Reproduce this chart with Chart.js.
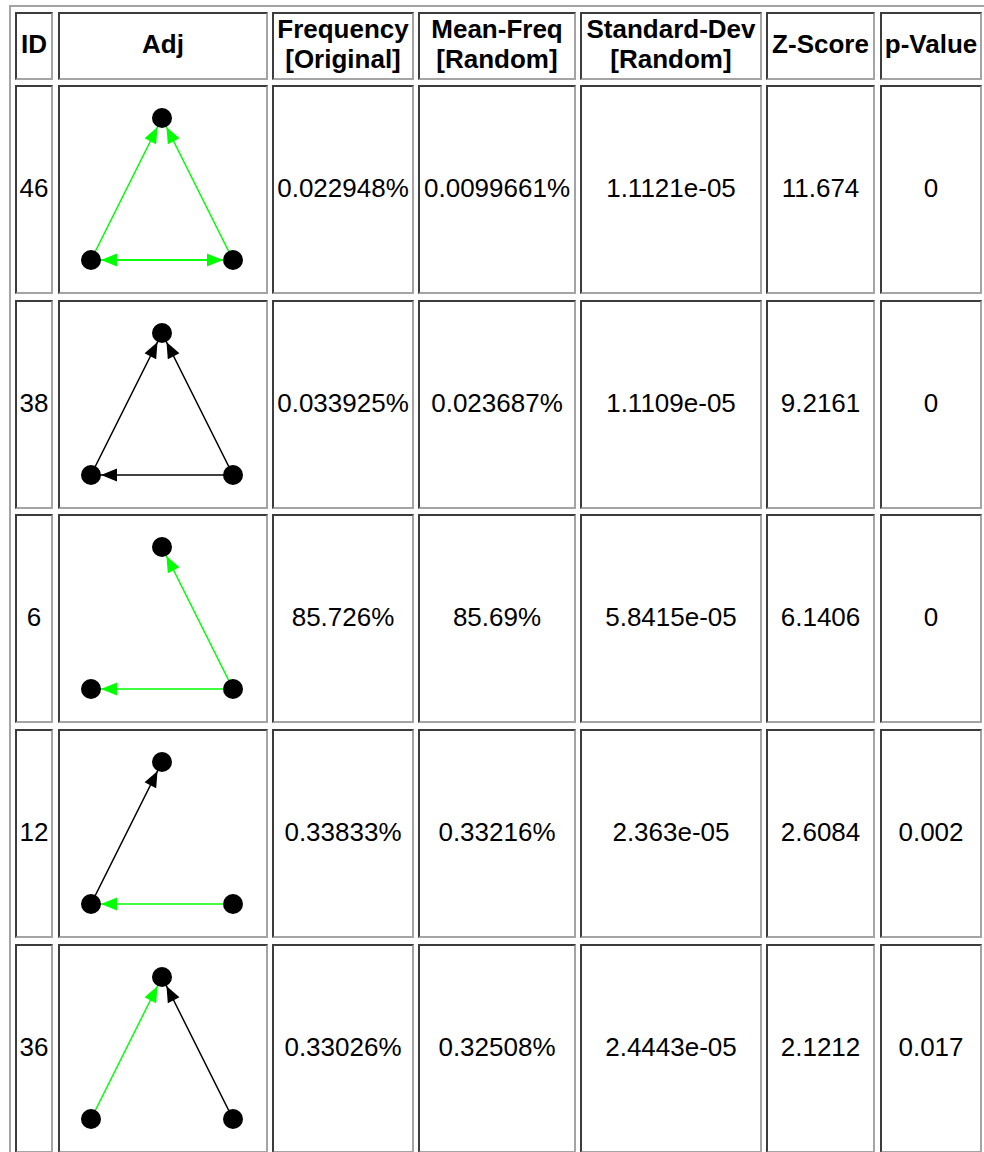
<!DOCTYPE html>
<html>
<head>
<meta charset="utf-8">
<title>Network motifs</title>
<script src="https://cdn.jsdelivr.net/npm/chart.js@4/dist/chart.umd.min.js"></script>
<style>
  html, body { margin: 0; padding: 0; background: #fff; }
  body { width: 984px; height: 1152px; overflow: hidden; position: relative;
         font-family: "Liberation Sans", Arial, Helvetica, sans-serif; color: #000; }
  .frame { position: absolute; left: 9px; top: 5px; width: 990px; height: 1170px;
           box-sizing: border-box; border-top: 2px solid #a4a4a4; border-left: 2px solid #a4a4a4; }
  .cell { position: absolute; box-sizing: border-box; border: 2px solid;
          border-color: #3c3c3c #a4a4a4 #a4a4a4 #3c3c3c;
          display: flex; align-items: center; justify-content: center;
          text-align: center; font-size: 26px; line-height: 30px; white-space: nowrap;
          padding-bottom: 4px; }
  .cell.graph { padding: 0; }
  .head { font-weight: bold; }
  .cell canvas { display: block; }
</style>
</head>
<body>
<div class="frame"></div>
<div id="grid"></div>
<script>
// Column headers
const headers = ['ID', 'Adj', 'Frequency<br>[Original]', 'Mean-Freq<br>[Random]',
                 'Standard-Dev<br>[Random]', 'Z-Score', 'p-Value'];

// Motif statistics, one entry per row
const motifIds      = [46, 38, 6, 12, 36];
const freqOriginal  = ['0.022948%', '0.033925%', '85.726%', '0.33833%', '0.33026%'];
const meanFreqRand  = ['0.0099661%', '0.023687%', '85.69%', '0.33216%', '0.32508%'];
const stdDevRand    = ['1.1121e-05', '1.1109e-05', '5.8415e-05', '2.363e-05', '2.4443e-05'];
const zScores       = ['11.674', '9.2161', '6.1406', '2.6084', '2.1212'];
const pValues       = ['0', '0', '0', '0.002', '0.017'];

// Three-node motif layout (T = top, BL = bottom left, BR = bottom right)
const nodeNames = ['T', 'BL', 'BR'];
const nodeX     = [0.5, 0, 1];
const nodeY     = [1, 0, 0];

// Directed edges of each motif: [from, to, colour key]
const motifEdges = [
  [['BL', 'T', 'g'], ['BR', 'T', 'g'], ['BL', 'BR', 'g'], ['BR', 'BL', 'g']],
  [['BL', 'T', 'k'], ['BR', 'T', 'k'], ['BR', 'BL', 'k']],
  [['BR', 'T', 'g'], ['BR', 'BL', 'g']],
  [['BL', 'T', 'k'], ['BR', 'BL', 'g']],
  [['BL', 'T', 'g'], ['BR', 'T', 'k']]
];
const edgeColours = { g: '#00ff00', k: '#000000' };

// Table geometry (outer box of each cell)
const colEdges = [[15, 53], [58, 268], [272, 414], [418, 576], [580, 762], [766, 875], [880, 982]];
const rowEdges = [[12, 80], [85, 294], [300, 509], [514, 723], [729, 938], [944, 1153]];

const NODE_R = 10, ARROW_LEN = 16, ARROW_HALF = 6.5;

// Draws filled arrowheads at the target end of every edge dataset
const arrowHeads = {
  id: 'arrowHeads',
  afterDatasetsDraw(chart) {
    const ctx = chart.ctx;
    chart.data.datasets.forEach((ds, i) => {
      if (!ds.isEdge) return;
      const pts = chart.getDatasetMeta(i).data;
      const a = pts[0], b = pts[1];
      const dx = b.x - a.x, dy = b.y - a.y;
      const len = Math.hypot(dx, dy);
      const ux = dx / len, uy = dy / len;
      const tipX = b.x - ux * NODE_R, tipY = b.y - uy * NODE_R;
      const baseX = tipX - ux * ARROW_LEN, baseY = tipY - uy * ARROW_LEN;
      ctx.save();
      ctx.fillStyle = ds.borderColor;
      ctx.beginPath();
      ctx.moveTo(tipX, tipY);
      ctx.lineTo(baseX - uy * ARROW_HALF, baseY + ux * ARROW_HALF);
      ctx.lineTo(baseX + uy * ARROW_HALF, baseY - ux * ARROW_HALF);
      ctx.closePath();
      ctx.fill();
      ctx.restore();
    });
  }
};

function nodePoint(name) {
  const k = nodeNames.indexOf(name);
  return { x: nodeX[k], y: nodeY[k] };
}

function makeCell(col, row, html) {
  const d = document.createElement('div');
  d.className = 'cell' + (row === 0 ? ' head' : '');
  d.style.left = colEdges[col][0] + 'px';
  d.style.top = rowEdges[row][0] + 'px';
  d.style.width = (colEdges[col][1] - colEdges[col][0]) + 'px';
  d.style.height = (rowEdges[row][1] - rowEdges[row][0]) + 'px';
  if (html !== undefined) d.innerHTML = html;
  document.getElementById('grid').appendChild(d);
  return d;
}

function drawMotif(cell, edges) {
  cell.classList.add('graph');
  const w = colEdges[1][1] - colEdges[1][0] - 4;
  const canvas = document.createElement('canvas');
  canvas.width = w;
  canvas.height = 205;
  canvas.style.width = w + 'px';
  canvas.style.height = '205px';
  cell.appendChild(canvas);

  const datasets = [{
    data: nodeNames.map(nodePoint),
    pointRadius: NODE_R,
    pointHoverRadius: NODE_R,
    backgroundColor: '#000',
    borderWidth: 0,
    clip: false,
    order: 0
  }];
  edges.forEach(([from, to, c]) => {
    datasets.push({
      isEdge: true,
      data: [nodePoint(from), nodePoint(to)],
      showLine: true,
      borderColor: edgeColours[c],
      borderWidth: 1.6,
      pointRadius: 0,
      pointHoverRadius: 0,
      clip: false,
      order: 1
    });
  });

  new Chart(canvas, {
    type: 'scatter',
    data: { datasets },
    options: {
      responsive: false,
      animation: false,
      events: [],
      layout: { padding: { left: 31, right: 33, top: 31, bottom: 32 } },
      scales: {
        x: { type: 'linear', min: 0, max: 1, display: false },
        y: { type: 'linear', min: 0, max: 1, display: false }
      },
      plugins: { legend: { display: false }, tooltip: { enabled: false } }
    },
    plugins: [arrowHeads]
  });
}

headers.forEach((h, c) => makeCell(c, 0, h));
motifIds.forEach((id, r) => {
  const row = r + 1;
  makeCell(0, row, String(id));
  drawMotif(makeCell(1, row), motifEdges[r]);
  makeCell(2, row, freqOriginal[r]);
  makeCell(3, row, meanFreqRand[r]);
  makeCell(4, row, stdDevRand[r]);
  makeCell(5, row, zScores[r]);
  makeCell(6, row, pValues[r]);
});
</script>
</body>
</html>
